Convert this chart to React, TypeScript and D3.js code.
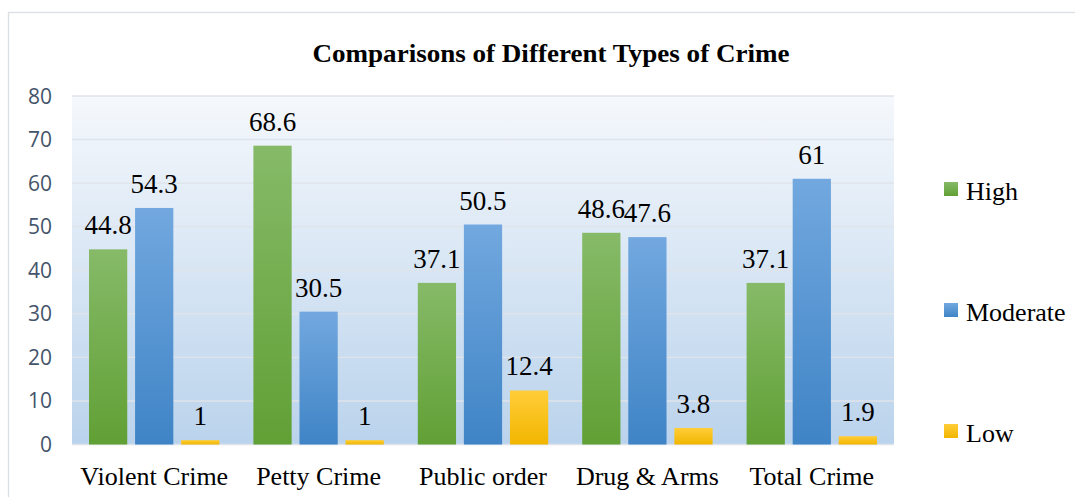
import { useEffect, useRef } from "react";
import * as d3 from "d3";

const CATEGORIES = ["Violent Crime", "Petty Crime", "Public order", "Drug & Arms", "Total Crime"];
const SERIES = ["High", "Moderate", "Low"];
const HIGH = [44.8, 68.6, 37.1, 48.6, 37.1];
const MODERATE = [54.3, 30.5, 50.5, 47.6, 61];
const LOW = [1, 1, 12.4, 3.8, 1.9];
const Y_TICKS = [0, 10, 20, 30, 40, 50, 60, 70, 80];
const TITLE = "Comparisons of Different Types of Crime";

const WIDTH = 1075;
const HEIGHT = 497;
const PLOT = { left: 72, right: 894, top: 96, bottom: 444.5 };

// top/bottom gradient stops per series
const BAR_STOPS: [string, string][] = [
  ["#86ba68", "#61a035"],
  ["#72a8df", "#3f84c6"],
  ["#ffcd38", "#f2b600"],
];
const SERIF = "'Liberation Serif', 'DejaVu Serif', serif";

export default function App() {
  const svgRef = useRef<SVGSVGElement | null>(null);

  useEffect(() => {
    if (!svgRef.current) return;
    const svg = d3.select(svgRef.current);
    svg.selectAll("*").remove();

    const values = [HIGH, MODERATE, LOW];
    const defs = svg.append("defs");

    // Plot background gradient (pale at top, light blue at bottom)
    const bg = defs
      .append("linearGradient")
      .attr("id", "plotBg")
      .attr("x1", 0)
      .attr("y1", 0)
      .attr("x2", 0)
      .attr("y2", 1);
    bg.append("stop").attr("offset", "0%").attr("stop-color", "#f5f8fc");
    bg.append("stop").attr("offset", "100%").attr("stop-color", "#bad3ec");

    BAR_STOPS.forEach(([top, bottom], i) => {
      const g = defs
        .append("linearGradient")
        .attr("id", `bar${i}`)
        .attr("x1", 0)
        .attr("y1", 0)
        .attr("x2", 0)
        .attr("y2", 1);
      g.append("stop").attr("offset", "0%").attr("stop-color", top);
      g.append("stop").attr("offset", "100%").attr("stop-color", bottom);
    });

    // Chart frame
    svg
      .append("rect")
      .attr("x", 8.5)
      .attr("y", 12.5)
      .attr("width", WIDTH + 20)
      .attr("height", HEIGHT + 20)
      .attr("fill", "#fff")
      .attr("stroke", "#dadee5")
      .attr("stroke-width", 1.3);

    // Title
    svg
      .append("text")
      .attr("x", 551)
      .attr("y", 62)
      .attr("text-anchor", "middle")
      .attr("font-family", SERIF)
      .attr("font-weight", "bold")
      .attr("font-size", 25)
      .attr("textLength", 477)
      .attr("lengthAdjust", "spacingAndGlyphs")
      .text(TITLE);

    // Scales
    const x0 = d3
      .scaleBand<string>()
      .domain(CATEGORIES)
      .range([PLOT.left, PLOT.right])
      .padding(0);
    const x1 = d3
      .scaleBand<string>()
      .domain(SERIES)
      .range([17, x0.bandwidth() - 17])
      .paddingInner(0.17)
      .paddingOuter(0);
    const y = d3.scaleLinear().domain([0, 80]).range([PLOT.bottom, PLOT.top]);

    // Plot background
    svg
      .append("rect")
      .attr("x", PLOT.left)
      .attr("y", PLOT.top)
      .attr("width", PLOT.right - PLOT.left)
      .attr("height", PLOT.bottom - PLOT.top)
      .attr("fill", "url(#plotBg)");

    // Gridlines
    svg
      .append("g")
      .selectAll("line")
      .data(Y_TICKS)
      .join("line")
      .attr("x1", PLOT.left)
      .attr("x2", PLOT.right)
      .attr("y1", (d) => y(d))
      .attr("y2", (d) => y(d))
      .attr("stroke", "#dfe3ea")
      .attr("stroke-width", 1.4);

    // Y labels
    svg
      .append("g")
      .selectAll("text")
      .data(Y_TICKS)
      .join("text")
      .attr("x", 52)
      .attr("y", (d) => y(d))
      .attr("dy", "0.36em")
      .attr("text-anchor", "end")
      .attr("font-family", "'Open Sans', 'Noto Sans', sans-serif")
      .attr("font-size", 21)
      .attr("fill", "#44546a")
      .text((d) => d);

    // Bars and value labels
    const groups = svg
      .append("g")
      .selectAll("g")
      .data(CATEGORIES)
      .join("g")
      .attr("transform", (d) => `translate(${x0(d)},0)`);

    SERIES.forEach((s, si) => {
      groups
        .append("rect")
        .attr("x", x1(s)!)
        .attr("width", x1.bandwidth())
        .attr("y", (_d, ci) => y(values[si][ci]))
        .attr("height", (_d, ci) => y(0) - y(values[si][ci]))
        .attr("fill", `url(#bar${si})`);

      groups
        .append("text")
        .attr("x", x1(s)! + x1.bandwidth() / 2)
        .attr("y", (_d, ci) => y(values[si][ci]) - 15)
        .attr("text-anchor", "middle")
        .attr("font-family", SERIF)
        .attr("font-size", 27)
        .attr("fill", "#000")
        .text((_d, ci) => String(values[si][ci]));
    });

    // X labels
    svg
      .append("g")
      .selectAll("text")
      .data(CATEGORIES)
      .join("text")
      .attr("x", (d) => x0(d)! + x0.bandwidth() / 2)
      .attr("y", 485)
      .attr("text-anchor", "middle")
      .attr("font-family", SERIF)
      .attr("font-size", 26)
      .attr("fill", "#000")
      .text((d) => d);

    // Legend
    const legend = svg
      .append("g")
      .selectAll("g")
      .data(SERIES)
      .join("g")
      .attr("transform", (_d, i) => `translate(944,${182 + i * 121})`);
    legend
      .append("rect")
      .attr("width", 14)
      .attr("height", 14)
      .attr("fill", (_d, i) => `url(#bar${i})`);
    legend
      .append("text")
      .attr("x", 22)
      .attr("y", 18)
      .attr("font-family", SERIF)
      .attr("font-size", 26)
      .attr("fill", "#000")
      .text((d) => d);
  }, []);

  return (
    <svg
      ref={svgRef}
      width={WIDTH}
      height={HEIGHT}
      style={{ position: "fixed", left: 0, top: 0, background: "#fff" }}
    />
  );
}
